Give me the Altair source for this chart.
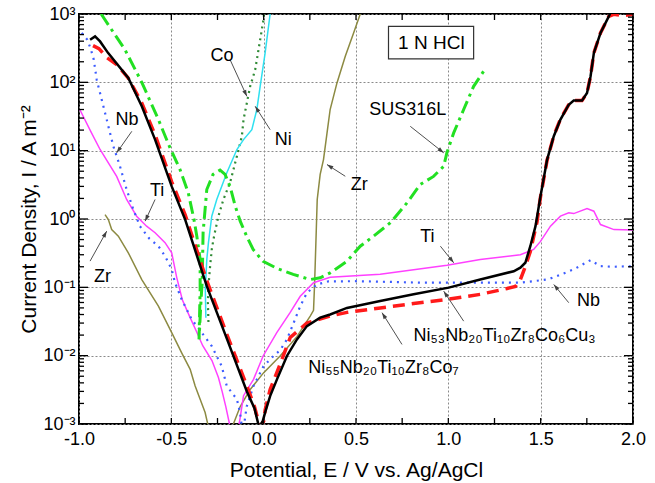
import math
import altair as alt
import pandas as pd

FONT = "Liberation Sans, Arial, Helvetica, sans-serif"

# ---------------- curves: E (V vs Ag/AgCl), I (A m^-2) ----------------
ni53_E = [-0.940, -0.913, -0.886, -0.843, -0.733, -0.660, -0.588, -0.498, -0.425, -0.308, -0.198, -0.091,
          -0.050, -0.025, -0.005, 0.008, 0.035, 0.072, 0.126, 0.180, 0.234, 0.306, 0.360, 0.451, 0.631,
          0.812, 1.002, 1.173, 1.354, 1.390, 1.417, 1.444, 1.472, 1.499, 1.535, 1.571, 1.607, 1.652,
          1.679, 1.724, 1.751, 1.770, 1.788, 1.824, 1.869, 1.885]
ni53_I = [420, 471, 397, 270, 116, 44.6, 14.5, 3.0, 0.98, 0.104, 0.0173, 0.0030,
          0.0017, 0.0009, 0.0011, 0.00148, 0.00256, 0.0045, 0.0099, 0.0173, 0.0271, 0.036, 0.040, 0.050, 0.063,
          0.079, 0.099, 0.130, 0.172, 0.194, 0.229, 0.40, 0.785, 2.15, 7.4, 16.3, 28.5, 47,
          54, 54, 70, 122, 269, 527, 923, 1150]

ni55_E = [-0.924, -0.892, -0.848, -0.794, -0.735, -0.660, -0.588, -0.498, -0.425, -0.308, -0.198, -0.091,
          -0.050, -0.020, 0.000, 0.008, 0.035, 0.089, 0.144, 0.234, 0.360, 0.451, 0.631, 0.812, 0.993,
          1.173, 1.318, 1.363, 1.390, 1.417, 1.444, 1.480, 1.499, 1.535, 1.571, 1.607, 1.652, 1.679,
          1.724, 1.751, 1.770, 1.788, 1.824, 1.869, 1.895, 1.950, 2.000]
ni55_I = [344, 311, 229, 181, 117, 50, 17, 3.5, 1.15, 0.125, 0.020, 0.0036,
          0.0018, 0.0009, 0.0011, 0.0016, 0.0032, 0.0075, 0.0185, 0.030, 0.038, 0.043, 0.050, 0.058, 0.0665,
          0.079, 0.096, 0.103, 0.130, 0.202, 0.335, 0.90, 2.1, 7.3, 16.5, 29, 47, 54,
          54, 70, 122, 269, 527, 923, 990, 950, 990]

sus_E = [-0.880, -0.751, -0.660, -0.570, -0.507, -0.453, -0.408, -0.378, -0.362, -0.344, -0.344, -0.350,
         -0.339, -0.333, -0.328, -0.308, -0.274, -0.236, -0.209, -0.182, -0.154, -0.127, -0.092, -0.057,
         -0.003, 0.071, 0.160, 0.252, 0.306, 0.360, 0.451, 0.523, 0.595, 0.686, 0.776, 0.848, 0.920,
         0.975, 0.992, 1.029, 1.083, 1.137, 1.191]
sus_I = [1000, 300, 100, 28.5, 11, 5.3, 2.4, 1.0, 0.56, 0.256, 0.093, 0.0173,
         0.0665, 0.117, 0.635, 2.7, 4.5, 5.2, 4.5, 3.0, 1.54, 0.93, 0.56, 0.358,
         0.24, 0.19, 0.155, 0.130, 0.138, 0.163, 0.24, 0.40, 0.56, 0.88, 1.72, 3.2, 4.2,
         5.9, 9.3, 18.2, 40, 87.5, 145]

ni_E = [-0.313, -0.316, -0.308, -0.299, -0.281, -0.254, -0.200, -0.145, -0.109, -0.064, -0.037, -0.019, 0.008, 0.035]
ni_I = [0.036, 0.093, 0.256, 0.45, 1.1, 1.93, 4.7, 10.4, 14.5, 20.3, 40, 87.5, 269, 1000]

co_E = [-0.299, -0.302, -0.299, -0.290, -0.281, -0.272, -0.263, -0.245, -0.218, -0.182, -0.145, -0.118,
        -0.109, -0.091, -0.073, -0.046, -0.019, -0.001, 0.002]
co_I = [0.031, 0.060, 0.104, 0.204, 0.36, 0.50, 0.66, 1.1, 1.93, 3.4, 8.3, 16.3,
        28.5, 50, 87.5, 153, 420, 826, 1000]

ti_E = [-0.995, -0.940, -0.886, -0.796, -0.742, -0.688, -0.634, -0.588, -0.534, -0.498, -0.471, -0.440,
        -0.400, -0.365, -0.330, -0.280, -0.245, -0.225, -0.205, -0.185, -0.178, -0.140, -0.128, -0.109,
        -0.055, -0.003, 0.071, 0.143, 0.198, 0.270, 0.360, 0.631, 0.993, 1.173, 1.390, 1.462, 1.499,
        1.553, 1.607, 1.652, 1.679, 1.751, 1.788, 1.824, 1.897, 2.000]
ti_I = [39.7, 20, 10.4, 4.2, 1.93, 1.1, 0.785, 0.63, 0.45, 0.32, 0.14, 0.065,
        0.037, 0.023, 0.014, 0.0085, 0.0048, 0.0030, 0.0018, 0.0010, 0.0008, 0.0008, 0.0012, 0.0026,
        0.0045, 0.0099, 0.0217, 0.0426, 0.074, 0.117, 0.14, 0.155, 0.21, 0.256, 0.30, 0.358, 0.47,
        0.785, 1.1, 1.23, 1.2, 1.42, 1.3, 0.83, 0.70, 0.69]

nb_E = [-0.985, -0.955, -0.935, -0.920, -0.904, -0.877, -0.850, -0.814, -0.778, -0.742, -0.706, -0.670,
        -0.620, -0.570, -0.534, -0.498, -0.480, -0.444, -0.390, -0.335, -0.281, -0.227, -0.200, -0.145,
        -0.128, -0.118, -0.108, -0.092, -0.055, -0.001, 0.053, 0.089, 0.126, 0.162, 0.198, 0.234, 0.288,
        0.350, 0.487, 0.631, 0.848, 1.209, 1.390, 1.535, 1.589, 1.679, 1.770, 1.824, 1.897, 2.000]
nb_I = [530, 420, 300, 215, 109, 55.8, 28.5, 11.6, 5.9, 2.7, 1.38, 0.785,
        0.52, 0.40, 0.286, 0.183, 0.117, 0.0665, 0.034, 0.0217, 0.0138, 0.007, 0.0036, 0.0023,
        0.00147, 0.0009, 0.0009, 0.0018, 0.0036, 0.007, 0.0099, 0.012, 0.0173, 0.030, 0.053, 0.083, 0.11,
        0.122, 0.123, 0.121, 0.117, 0.117, 0.117, 0.13, 0.146, 0.183, 0.25, 0.204, 0.20, 0.204]

zr_E = [-0.859, -0.841, -0.823, -0.787, -0.733, -0.660, -0.570, -0.498, -0.444, -0.398, -0.371, -0.344,
        -0.317, -0.299, -0.170, -0.164, -0.127, -0.073, -0.001, 0.089, 0.180, 0.252, 0.270, 0.276,
        0.285, 0.290, 0.306, 0.324, 0.343, 0.360, 0.397, 0.442, 0.487, 0.523]
zr_I = [1.16, 0.98, 0.70, 0.56, 0.32, 0.13, 0.053, 0.0217, 0.011, 0.0063, 0.0036, 0.0023,
        0.00147, 0.0009, 0.0009, 0.001, 0.0018, 0.0032, 0.0056, 0.0099, 0.019, 0.038, 0.046, 0.117,
        0.70, 1.93, 4.5, 7.4, 18, 40, 98, 240, 527, 1000]

# ---------------- annotations ----------------
arrow_x1 = [-0.182, 0.035, -0.714, -0.588, -0.940, 0.442, 0.794, 0.957, 1.652, 1.083, 0.749]
arrow_y1 = [215, 20.3, 19.2, 1.93, 0.242, 4.22, 22.7, 0.40, 0.0596, 0.032, 0.0146]
arrow_x2 = [-0.091, -0.046, -0.796, -0.642, -0.850, 0.343, 0.975, 1.029, 1.571, 0.975, 0.641]
arrow_y2 = [62.4, 44.6, 9.3, 0.93, 0.664, 6.26, 9.3, 0.229, 0.110, 0.088, 0.0426]

label_text = ["Co", "Ni", "Nb", "Ti", "Zr", "Zr", "SUS316L", "Ti", "Nb"]
label_x = [-0.225, 0.106, -0.740, -0.577, -0.873, 0.518, 0.780, 0.886, 1.759]
label_y = [245, 14.1, 28.4, 2.56, 0.142, 3.19, 39.9, 0.546, 0.0628]

alloy_text = ["Ni\u2085\u2083Nb\u2082\u2080Ti\u2081\u2080Zr\u2088Co\u2086Cu\u2083",
              "Ni\u2085\u2085Nb\u2082\u2080Ti\u2081\u2080Zr\u2088Co\u2087"]
alloy_x = [0.812, 0.241]
alloy_y = [0.0163, 0.0055]

box_text = ["1 N HCl"]
box_x = [0.676]
box_x2 = [1.137]
box_y = [659]
box_y2 = [220]
box_tx = [0.908]
box_ty = [380]

# axis tick values
x_major = [-1.0, -0.5, 0.0, 0.5, 1.0, 1.5, 2.0]
x_minor = [-1.0, -0.75, -0.5, -0.25, 0.0, 0.25, 0.5, 0.75, 1.0, 1.25, 1.5, 1.75, 2.0]
y_major = [0.001, 0.01, 0.1, 1, 10, 100, 1000]
y_minor = [k * d for d in [0.001, 0.01, 0.1, 1, 10, 100] for k in range(2, 10)]

W, H = 554, 410

xscale = alt.Scale(domain=[-1, 2], nice=False, zero=False)
yscale = alt.Scale(type="log", domain=[0.001, 1000], nice=False)

ax_x_main = alt.Axis(orient="bottom", values=x_major, ticks=False, domain=False,
                     labelExpr="replace(format(datum.value, '.1f'), '\u2212', '-')",
                     labelFontSize=18, labelPadding=6, titleFontSize=21, titlePadding=11,
                     title="Potential, E / V vs. Ag/AgCl", labelFlush=False,
                     grid=True, gridColor="#8a8a8a", gridDash=[2, 2], gridWidth=1)

ylab = ("datum.value > 500 ? '10\u00b3' : datum.value > 50 ? '10\u00b2' : datum.value > 5 ? '10\u00b9' : "
        "datum.value > 0.5 ? '10\u2070' : datum.value > 0.05 ? '10\u207b\u00b9' : "
        "datum.value > 0.005 ? '10\u207b\u00b2' : '10\u207b\u00b3'")
ax_y_main = alt.Axis(orient="left", values=y_major, ticks=False, domain=False, labelExpr=ylab,
                     labelFontSize=18, labelPadding=4, titleFontSize=21, titlePadding=3,
                     title="Current Density, I / A m\u207b\u00b2", labelFlush=False,
                     grid=True, gridColor="#8a8a8a", gridDash=[2, 2], gridWidth=1)


def curve(E, I, color, width, dash=None, xaxis=None, yaxis=None):
    df = pd.DataFrame({"E": E, "I": I, "i": list(range(len(E)))})
    props = dict(color=color, strokeWidth=width, clip=True)
    if dash is not None:
        props["strokeDash"] = dash
    return alt.Chart(df).mark_line(**props).encode(
        x=alt.X("E:Q", scale=xscale, axis=xaxis),
        y=alt.Y("I:Q", scale=yscale, axis=yaxis),
        order=alt.Order("i:Q"),
    )


zr = curve(zr_E, zr_I, "#8c8a42", 1.5)
ti = curve(ti_E, ti_I, "#ff40ff", 1.5)
nb = curve(nb_E, nb_I, "#3c5cff", 2.2, dash=[2, 5])
co = curve(co_E, co_I, "#2f8a35", 2.2, dash=[2, 4])
ni = curve(ni_E, ni_I, "#2fe0f0", 1.5)
sus = curve(sus_E, sus_I, "#22e022", 3, dash=[13, 5, 3, 5])
red = curve(ni55_E, ni55_I, "#ff1a1a", 3.5, dash=[12, 7], xaxis=ax_x_main, yaxis=ax_y_main)
black = curve(ni53_E, ni53_I, "black", 2.5)

# inward tick marks on the four edges, as short rules (lengths in px converted to data units)
xt_f = 10 ** (6.0 / H * 6.0)         # 6 px along the log axis
x_maj_len = 9.0 / W * 3.0            # 9 px along the linear axis
x_min_len = 5.0 / W * 3.0            # 5 px
tick_rows = []
for v in x_minor:
    tick_rows.append((v, v, 0.001, 0.001 * xt_f))
    tick_rows.append((v, v, 1000.0, 1000.0 / xt_f))
for v in y_major:
    tick_rows.append((-1.0, -1.0 + x_maj_len, v, v))
    tick_rows.append((2.0, 2.0 - x_maj_len, v, v))
for v in y_minor:
    tick_rows.append((-1.0, -1.0 + x_min_len, v, v))
    tick_rows.append((2.0, 2.0 - x_min_len, v, v))
tk_df = pd.DataFrame(tick_rows, columns=["ta", "tb", "tc", "td"])
ticks = alt.Chart(tk_df).mark_rule(color="black", strokeWidth=1.3).encode(
    x=alt.X("ta:Q", scale=xscale, axis=None), x2="tb:Q",
    y=alt.Y("tc:Q", scale=yscale, axis=None), y2="td:Q")

# arrows
angles = []
for a, b, c, d in zip(arrow_x1, arrow_y1, arrow_x2, arrow_y2):
    dx = (c - a) / 3.0 * W
    dl = (math.log10(d) - math.log10(b)) / 6.0 * H
    angles.append(math.degrees(math.atan2(dx, dl)) % 360)
arr_df = pd.DataFrame({"x1": arrow_x1, "y1": arrow_y1, "x2": arrow_x2, "y2": arrow_y2, "ang": angles})

arrows = alt.Chart(arr_df).mark_rule(color="#505050", strokeWidth=1).encode(
    x=alt.X("x1:Q", scale=xscale, axis=None), y=alt.Y("y1:Q", scale=yscale, axis=None),
    x2="x2:Q", y2="y2:Q")
heads = alt.Chart(arr_df).mark_point(shape="M0,0L-0.6,1.8L0.6,1.8Z", filled=True, size=50,
                                     color="#404040", opacity=1).encode(
    x=alt.X("x2:Q", scale=xscale, axis=None), y=alt.Y("y2:Q", scale=yscale, axis=None),
    angle=alt.Angle("ang:Q", scale=None))

lab_df = pd.DataFrame({"t": label_text, "x": label_x, "y": label_y})
labels = alt.Chart(lab_df).mark_text(font=FONT, fontSize=18, color="black", align="center",
                                     baseline="middle").encode(
    x=alt.X("x:Q", scale=xscale, axis=None), y=alt.Y("y:Q", scale=yscale, axis=None), text="t:N")

al_df = pd.DataFrame({"t": alloy_text, "x": alloy_x, "y": alloy_y})
alloys = alt.Chart(al_df).mark_text(font=FONT, fontSize=18, color="black", align="left",
                                    baseline="alphabetic").encode(
    x=alt.X("x:Q", scale=xscale, axis=None), y=alt.Y("y:Q", scale=yscale, axis=None), text="t:N")

bx_df = pd.DataFrame({"t": box_text, "x": box_x, "x2": box_x2, "y": box_y, "y2": box_y2,
                      "tx": box_tx, "ty": box_ty})
box = alt.Chart(bx_df).mark_rect(fill="white", stroke="#333333", strokeWidth=1.2).encode(
    x=alt.X("x:Q", scale=xscale, axis=None), x2="x2:Q",
    y=alt.Y("y:Q", scale=yscale, axis=None), y2="y2:Q")
box_t = alt.Chart(bx_df).mark_text(font=FONT, fontSize=19, color="black", align="center",
                                   baseline="middle").encode(
    x=alt.X("tx:Q", scale=xscale, axis=None), y=alt.Y("ty:Q", scale=yscale, axis=None), text="t:N")

chart = alt.layer(
    zr, ti, nb, co, ni, sus, red, black, box, box_t, arrows, heads, labels, alloys, ticks
).resolve_axis(
    x="independent", y="independent"
).properties(
    width=W, height=H,
    autosize=alt.AutoSizeParams(type="none"),
    padding={"left": 79, "top": 14, "right": 22, "bottom": 59},
).configure_view(
    stroke="black", strokeWidth=2
).configure_axis(
    labelFont=FONT, titleFont=FONT, labelColor="black", titleColor="black",
    titleFontWeight="normal", labelFontWeight="normal"
)

chart.save("out.html", embed_options={"renderer": "svg", "actions": False})
